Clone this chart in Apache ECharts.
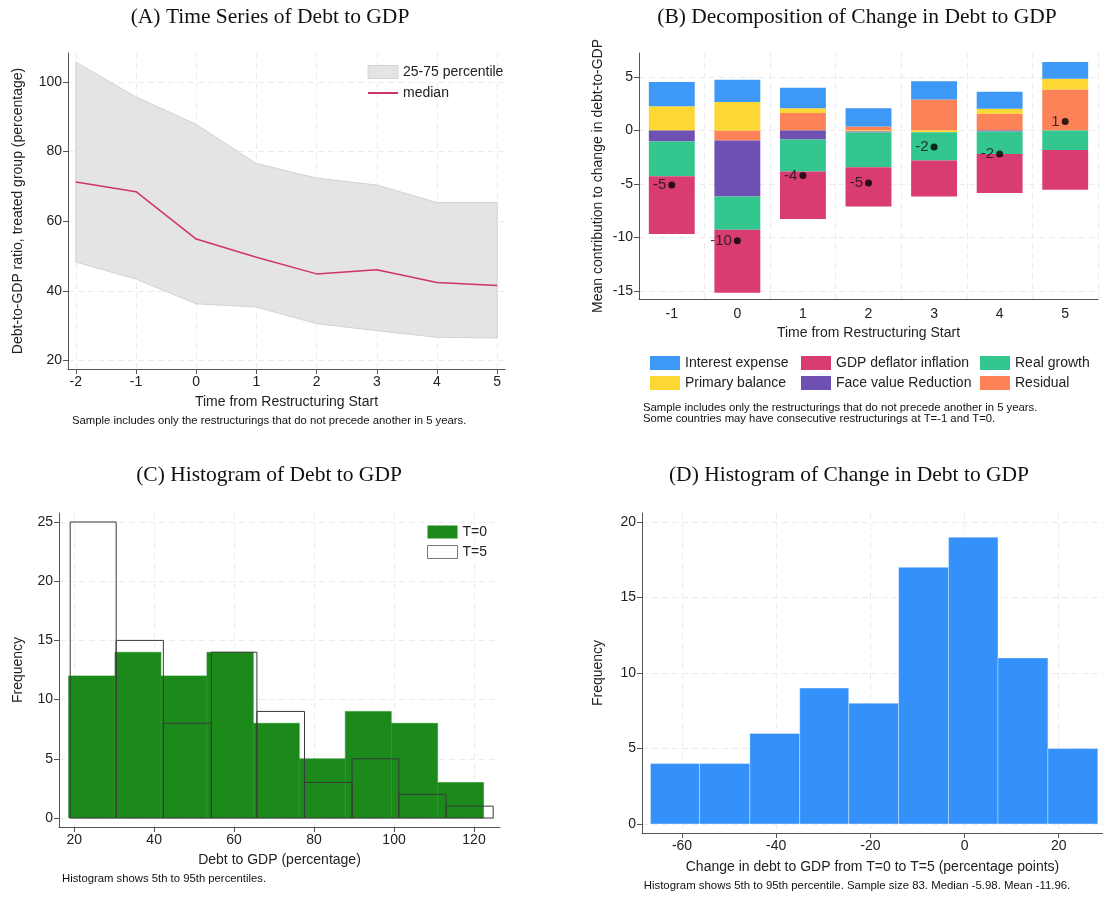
<!DOCTYPE html>
<html>
<head>
<meta charset="utf-8">
<script src="https://cdn.jsdelivr.net/npm/echarts@6/dist/echarts.min.js"></script>
<style>
  html, body { margin: 0; padding: 0; background: #fff; }
  #main { width: 1103px; height: 897px; }
</style>
</head>
<body>
<div id="main"></div>
<script>
// (A) time series
const timeA = [-2, -1, 0, 1, 2, 3, 4, 5]
const medianA = [71.3, 68.5, 54.9, 49.7, 44.9, 46.1, 42.4, 41.6]
const upperA = [105.7, 95.7, 87.8, 76.6, 72.4, 70.4, 65.4, 65.4]
const lowerA = [48.3, 43.4, 36.3, 35.4, 30.6, 28.6, 26.7, 26.5]

// (B) decomposition, T = -1 .. 5
const timeB = ['-1', '0', '1', '2', '3', '4', '5']
const residual = [0, -0.94, 1.63, 0.37, 2.9, 1.56, 3.84]
const primary = [2.28, 2.66, 0.46, -0.08, -0.15, 0.47, 1.0]
const interest = [2.25, 2.09, 1.91, 1.72, 1.72, 1.6, 1.56]
const faceValue = [-1.03, -5.22, -0.84, -0.1, 0, -0.1, 0]
const realGrowth = [-3.25, -3.12, -3.0, -3.26, -2.66, -2.09, -1.81]
const deflator = [-5.4, -5.88, -4.44, -3.66, -3.35, -3.65, -3.72]
const netChange = [-5.1, -10.3, -4.2, -4.9, -1.55, -2.2, 0.85]

// (C) histogram of debt to GDP
const t0Edges = [18.6, 30.2, 41.7, 53.2, 64.8, 76.3, 87.8, 99.3, 110.9, 122.4]
const t0Counts = [12, 14, 12, 14, 8, 5, 9, 8, 3]
const t5Edges = [19.0, 30.5, 42.3, 54.3, 65.7, 77.6, 89.5, 101.2, 113.0, 124.8]
const t5Counts = [25, 15, 8, 14, 9, 3, 5, 2, 1]

// (D) histogram of change
const chgEdges = [-66.7, -56.3, -45.6, -35.0, -24.6, -14.0, -3.4, 7.1, 17.7, 28.3]
const chgCounts = [4, 4, 6, 9, 8, 17, 19, 11, 5]

// tick labels
const ticksAx = [-2, -1, 0, 1, 2, 3, 4, 5]
const ticksAy = [20, 40, 60, 80, 100]
const ticksBy = [-15, -10, -5, 0, 5]
const ticksCx = [20, 40, 60, 80, 100, 120]
const ticksCy = [0, 5, 10, 15, 20, 25]
const ticksDx = [-60, -40, -20, 0, 20]
const ticksDy = [0, 5, 10, 15, 20]

const SANS = '"Liberation Sans", Arial, sans-serif'
const SERIF = '"Liberation Serif", "Times New Roman", serif'

const toBins = (edges, counts) => counts.map((c, i) => [edges[i], edges[i + 1], c])
const zip = (xs, ys) => xs.map((x, i) => [x, ys[i]])

// axis helper, Stata-like look
const valueAxis = (grid, min, max, ticks, extra) => Object.assign({
  type: 'value',
  gridIndex: grid,
  min: min,
  max: max,
  axisLine: { show: true, onZero: false, lineStyle: { color: '#555', width: 1 } },
  axisTick: { show: true, length: 5, customValues: ticks, lineStyle: { color: '#555' } },
  axisLabel: { customValues: ticks, color: '#222', fontSize: 14, fontFamily: SANS, margin: 6 },
  splitLine: { show: true, lineStyle: { color: '#ececec', type: [6, 4] } },
  nameLocation: 'middle',
  nameTextStyle: { color: '#222', fontSize: 14, fontFamily: SANS },
}, extra)

const histRender = (fill, stroke, lw) => (params, api) => {
  const p0 = api.coord([api.value(0), api.value(2)])
  const p1 = api.coord([api.value(1), 0])
  return {
    type: 'rect',
    shape: { x: p0[0], y: p0[1], width: p1[0] - p0[0], height: p1[1] - p0[1] },
    style: { fill: fill, stroke: stroke, lineWidth: lw },
  }
}

// percentile band drawn as one polygon (upper edge forward, lower edge back)
const bandRender = (params, api) => {
  if (params.dataIndex !== 0) return null
  const top = timeA.map((t, i) => api.coord([t, upperA[i]]))
  const bot = timeA.map((t, i) => api.coord([t, lowerA[i]])).reverse()
  return {
    type: 'polygon',
    shape: { points: top.concat(bot) },
    style: { fill: '#e4e4e4', stroke: '#d2d2d2', lineWidth: 1 },
  }
}

const text = (x, y, str, size, family, align) => ({
  type: 'text', x: x, y: y,
  style: {
    text: str, fontSize: size, fontFamily: family, fill: '#111',
    align: align, textAlign: align, verticalAlign: 'middle', textVerticalAlign: 'middle',
  },
})

const colors = {
  interest: '#3d99f5',
  primary: '#fdd835',
  deflator: '#d93c72',
  face: '#6f51b4',
  growth: '#33c68e',
  residual: '#fe8257',
}

const barSeries = (name, data, color) => ({
  name: name, type: 'bar', stack: 'dec', xAxisIndex: 1, yAxisIndex: 1,
  barWidth: '70%', data: data, itemStyle: { color: color }, z: 2,
})

const legendText = { fontSize: 14, color: '#222', fontFamily: SANS }

const chart = echarts.init(document.getElementById('main'))

chart.setOption({
  animation: false,
  textStyle: { fontFamily: SANS },
  grid: [
    { left: 68, top: 53, width: 437, height: 316 },
    { left: 639, top: 53, width: 459, height: 246 },
    { left: 59, top: 513, width: 441, height: 314 },
    { left: 642, top: 513, width: 461, height: 320 },
  ],
  xAxis: [
    valueAxis(0, -2.13, 5.13, ticksAx, { name: 'Time from Restructuring Start', nameGap: 26 }),
    {
      type: 'category', gridIndex: 1, data: timeB, boundaryGap: true,
      axisLine: { onZero: false, lineStyle: { color: '#555' } },
      axisTick: { alignWithLabel: true, length: 5, lineStyle: { color: '#555' } },
      axisLabel: { color: '#222', fontSize: 14, fontFamily: SANS, margin: 8 },
      splitLine: { show: true, interval: 0, lineStyle: { color: '#ececec', type: [6, 4] } },
      name: 'Time from Restructuring Start', nameLocation: 'middle', nameGap: 27,
      nameTextStyle: { color: '#222', fontSize: 14, fontFamily: SANS },
    },
    valueAxis(2, 16.2, 126.5, ticksCx, { name: 'Debt to GDP (percentage)', nameGap: 26 }),
    valueAxis(3, -68.5, 29.4, ticksDx, { name: 'Change in debt to GDP from T=0 to T=5 (percentage points)', nameGap: 27 }),
  ],
  yAxis: [
    valueAxis(0, 17.6, 108.3, ticksAy, { name: 'Debt-to-GDP ratio, treated group (percentage)', nameGap: 43 }),
    valueAxis(1, -15.75, 7.25, ticksBy, { name: 'Mean contribution to change in debt-to-GDP', nameGap: 34 }),
    valueAxis(2, -0.76, 25.76, ticksCy, { name: 'Frequency', nameGap: 34 }),
    valueAxis(3, -0.6, 20.6, ticksDy, { name: 'Frequency', nameGap: 37 }),
  ],
  legend: [
    {
      orient: 'vertical', left: 362, top: 60, itemWidth: 30, itemHeight: 13, itemGap: 7,
      textStyle: legendText,
      data: [
        { name: '25-75 percentile', icon: 'rect', itemStyle: { color: '#e4e4e4', borderColor: '#d2d2d2', borderWidth: 1 } },
        { name: 'median', itemStyle: { opacity: 0 } },
      ],
    },
    {
      orient: 'vertical', left: 645, top: 351, itemWidth: 30, itemHeight: 14, itemGap: 6,
      icon: 'rect', textStyle: legendText,
      data: ['Interest expense', 'Primary balance'],
    },
    {
      orient: 'vertical', left: 796, top: 351, itemWidth: 30, itemHeight: 14, itemGap: 6,
      icon: 'rect', textStyle: legendText,
      data: ['GDP deflator inflation', 'Face value Reduction'],
    },
    {
      orient: 'vertical', left: 975, top: 351, itemWidth: 30, itemHeight: 14, itemGap: 6,
      icon: 'rect', textStyle: legendText,
      data: ['Real growth', 'Residual'],
    },
    {
      orient: 'vertical', left: 422, top: 520, itemWidth: 30, itemHeight: 13, itemGap: 6,
      textStyle: legendText,
      data: [
        { name: 'T=0', icon: 'rect', itemStyle: { color: '#1b8a1b' } },
        { name: 'T=5', icon: 'rect', itemStyle: { color: '#fff', borderColor: '#777', borderWidth: 1 } },
      ],
    },
  ],
  graphic: [
    text(270, 17, '(A) Time Series of Debt to GDP', 21.5, SERIF, 'center'),
    text(857, 17, '(B) Decomposition of Change in Debt to GDP', 21.5, SERIF, 'center'),
    text(269, 475, '(C) Histogram of Debt to GDP', 21.5, SERIF, 'center'),
    text(849, 475, '(D) Histogram of Change in Debt to GDP', 21.5, SERIF, 'center'),
    text(72, 421, 'Sample includes only the restructurings that do not precede another in 5 years.', 11.3, SANS, 'left'),
    text(643, 408, 'Sample includes only the restructurings that do not precede another in 5 years.', 11.3, SANS, 'left'),
    text(643, 419, 'Some countries may have consecutive restructurings at T=-1 and T=0.', 11.3, SANS, 'left'),
    text(62, 879, 'Histogram shows 5th to 95th percentiles.', 11.3, SANS, 'left'),
    text(857, 886, 'Histogram shows 5th to 95th percentile. Sample size 83. Median -5.98. Mean -11.96.', 11.4, SANS, 'center'),
  ],
  series: [
    // (A)
    {
      name: '25-75 percentile', type: 'custom', xAxisIndex: 0, yAxisIndex: 0,
      data: timeA.map((t, i) => [t, lowerA[i], upperA[i]]), encode: { x: 0, y: [1, 2] },
      renderItem: bandRender, itemStyle: { color: '#e4e4e4' }, z: 1,
    },
    {
      name: 'median', type: 'line', xAxisIndex: 0, yAxisIndex: 0,
      data: zip(timeA, medianA), symbol: 'none',
      lineStyle: { color: '#d0336b', width: 1.5 },
      itemStyle: { color: '#d0336b' }, z: 3,
    },
    // (B)
    barSeries('Residual', residual, colors.residual),
    barSeries('Primary balance', primary, colors.primary),
    barSeries('Interest expense', interest, colors.interest),
    barSeries('Face value Reduction', faceValue, colors.face),
    barSeries('Real growth', realGrowth, colors.growth),
    barSeries('GDP deflator inflation', deflator, colors.deflator),
    {
      name: 'net', type: 'scatter', xAxisIndex: 1, yAxisIndex: 1,
      data: netChange, symbolSize: 7, itemStyle: { color: '#000' }, z: 5,
      label: {
        show: true, position: 'left', distance: 2, fontSize: 15, color: '#111', fontFamily: SANS,
        formatter: p => String(Math.round(p.value)),
      },
    },
    // (C)
    {
      name: 'T=0', type: 'custom', xAxisIndex: 2, yAxisIndex: 2,
      data: toBins(t0Edges, t0Counts), encode: { x: [0, 1], y: 2 },
      renderItem: histRender('#1b8a1b', '#2a962a', 0.6),
      itemStyle: { color: '#1b8a1b' },
    },
    {
      name: 'T=5', type: 'custom', xAxisIndex: 2, yAxisIndex: 2,
      data: toBins(t5Edges, t5Counts), encode: { x: [0, 1], y: 2 },
      renderItem: histRender('rgba(0,0,0,0)', '#3a3a3a', 1),
      itemStyle: { color: '#fff' }, z: 3,
    },
    // (D)
    {
      name: 'change', type: 'custom', xAxisIndex: 3, yAxisIndex: 3,
      data: toBins(chgEdges, chgCounts), encode: { x: [0, 1], y: 2 },
      renderItem: histRender('#3491f9', 'rgba(255,255,255,0.35)', 1),
    },
  ],
})
</script>
</body>
</html>
